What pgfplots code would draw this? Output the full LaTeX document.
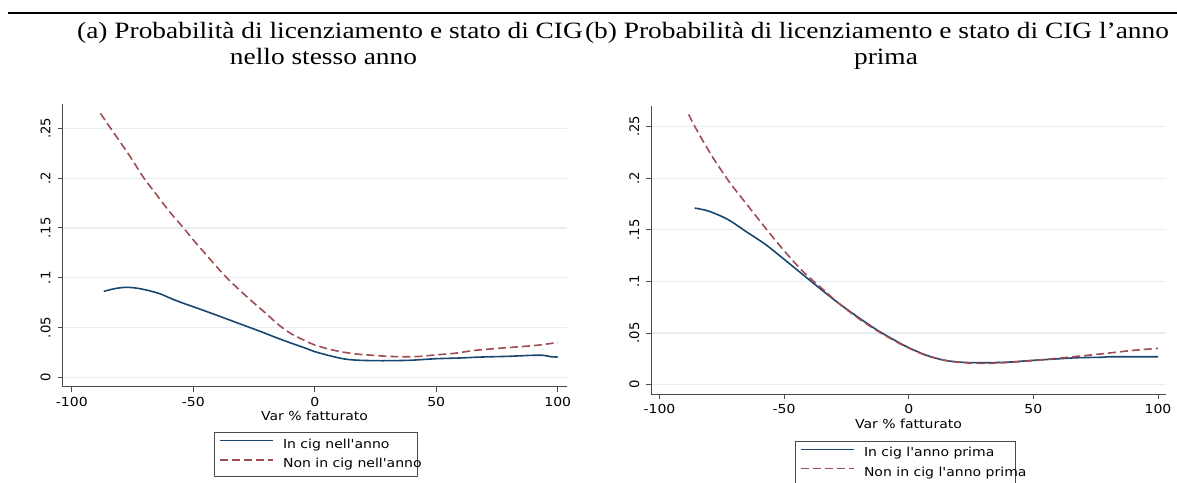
\documentclass[border=0pt]{standalone}
\usepackage{fontspec}
\usepackage{pgfplots}
\pgfplotsset{compat=1.18}
\newfontfamily\titlefont[FakeStretch=1.17]{Liberation Serif}
\newfontfamily\tickfont[FakeStretch=1.13]{DejaVu Sans}
\newfontfamily\ytickfont{DejaVu Sans}
\definecolor{cnavy}{HTML}{1A476F}
\definecolor{cmaroon}{HTML}{A04C52}
\definecolor{gridc}{HTML}{E6EEF1}
\definecolor{axc}{HTML}{4A4A4A}
\pgfplotsset{
  legend image code/.code={\draw[#1, line width=0.75pt] (0pt,2.2pt) -- (26.5pt,2.2pt);},
  solidl/.style={cnavy, line width=0.8pt},
  dashl/.style={cmaroon, line width=0.8pt, dash pattern=on 4pt off 2pt},
  stataax/.style={
    scale only axis,
    axis x line*=bottom, axis y line*=left,
    axis line style={-, draw=axc, line width=0.5pt},
    tick style={draw=axc, line width=0.5pt},
    tick align=outside, major tick length=2.4pt,
    xtick={-100,-50,0,50,100},
    xticklabels={-100,-50,0,50,100},
    ytick={0,0.05,0.1,0.15,0.2,0.25},
    yticklabels={0,.05,.1,.15,.2,.25},
    ymajorgrids, grid style={draw=gridc, line width=0.6pt},
    xticklabel style={font=\fontsize{6.2}{7}\selectfont\tickfont, anchor=north, inner sep=0pt},
    xticklabel shift=2.5pt,
    yticklabel style={font=\fontsize{6.6}{7}\selectfont\ytickfont, rotate=90, anchor=south, inner sep=0pt},
    yticklabel shift=3.3pt,
    xlabel={Var \% fatturato},
    legend cell align=left,
    legend style={draw=axc, line width=0.5pt, fill=white, font=\fontsize{6.2}{7}\selectfont\tickfont,
      inner xsep=2.5pt, inner ysep=3pt, row sep=3.5pt, nodes={inner sep=0pt}, anchor=north west},
  }
}
\begin{document}
\begin{tikzpicture}
\useasboundingbox (0,0) rectangle (588.5pt,241pt);
\draw[line width=0.9pt] (3.8pt,234.35pt) -- (588.5pt,234.35pt);
\node[anchor=base, inner sep=0pt, font=\fontsize{11.7}{13}\selectfont\titlefont] at (165pt,221.85pt) {(a) Probabilità di licenziamento e stato di CIG};
\node[anchor=base, inner sep=0pt, font=\fontsize{11.7}{13}\selectfont\titlefont] at (161.75pt,208.5pt) {nello stesso anno};
\node[anchor=base, inner sep=0pt, font=\fontsize{11.7}{13}\selectfont\titlefont] at (438.5pt,221.85pt) {(b) Probabilità di licenziamento e stato di CIG l’anno};
\node[anchor=base, inner sep=0pt, font=\fontsize{11.7}{13}\selectfont\titlefont] at (443pt,208.5pt) {prima};

\begin{axis}[stataax,
  at={(31.15pt,47.65pt)}, anchor=south west,
  width=252.2pt, height=141.1pt,
  xmin=-103.9, xmax=103.7, ymin=-0.0094, ymax=0.2739,
  xlabel style={font=\fontsize{6.2}{7}\selectfont\tickfont, at={(axis description cs:0.5,0)}, anchor=base, inner sep=0pt, yshift=-16.65pt},
  legend style={at={(axis description cs:0.3008,-0.1616)}},
]
\addplot[solidl, smooth] coordinates {
(-86.8,0.0863) (-82.4,0.0890) (-77.6,0.0904) (-72.9,0.0894) (-68.2,0.0870) (-63.5,0.0837)
(-58.7,0.0787) (-54.0,0.0743) (-47.7,0.0689) (-41.4,0.0633) (-35.1,0.0576) (-28.8,0.0519)
(-22.5,0.0462) (-16.2,0.0402) (-9.9,0.0345) (-3.6,0.0291) (0,0.0258) (6.0,0.0218)
(12.3,0.0184) (18.6,0.0171) (27.9,0.0167) (38.9,0.0171) (50.0,0.0187) (59.4,0.0194)
(68.8,0.0204) (79.8,0.0211) (89.3,0.0221) (94.0,0.0221) (97.2,0.0207) (100,0.0204)};
\addlegendentry{\hspace*{4.5pt}\makebox[64.5pt][l]{In cig nell'anno}}
\addplot[dashl, smooth] coordinates {
(-88.2,0.265) (-84,0.250) (-80,0.236) (-75,0.218) (-70.6,0.201) (-65,0.183) (-60,0.167)
(-54,0.150) (-50,0.138) (-45,0.124) (-40,0.110) (-35,0.097) (-30,0.0855) (-25,0.0745)
(-20,0.0640) (-15,0.0530) (-10,0.0442) (-5,0.038) (0,0.0325) (7.4,0.0274) (15,0.0240)
(20,0.0228) (27.9,0.0214) (35,0.0207) (42,0.0208) (50,0.0226) (57.8,0.0242) (65.7,0.0270)
(75,0.0290) (90.7,0.032) (100,0.0350)};
\addlegendentry{\hspace*{4.5pt}\makebox[64.5pt][l]{Non in cig nell'anno}}
\end{axis}

\begin{axis}[stataax,
  at={(325.5pt,44pt)}, anchor=south west,
  width=257.5pt, height=144pt,
  xmin=-103.4, xmax=103.2, ymin=-0.0090, ymax=0.2698,
  xlabel style={font=\fontsize{6.2}{7}\selectfont\tickfont, at={(axis description cs:0.5,0)}, anchor=base, inner sep=0pt, yshift=-17.15pt},
  legend style={at={(axis description cs:0.2796,-0.1632)}},
]
\addplot[solidl, smooth] coordinates {
(-85.9,0.171) (-80.2,0.168) (-72.6,0.160) (-65.1,0.148) (-57.6,0.136) (-50.1,0.1216)
(-42.6,0.1068) (-35.0,0.0919) (-27.5,0.0777) (-20.0,0.0648) (-12.5,0.0526) (-4.8,0.0419)
(0,0.0358) (7.2,0.0284) (14.7,0.0235) (22.1,0.0216) (31.3,0.0213) (40.3,0.0219)
(49.3,0.0235) (58.3,0.0248) (67.4,0.0261) (77.9,0.0266) (80,0.0270) (89.9,0.0271) (100,0.0271)};
\addlegendentry{\hspace*{4.5pt}\makebox[73pt][l]{In cig l'anno prima}}
\addplot[dashl, smooth] coordinates {
(-88.3,0.2616) (-84.7,0.2450) (-78.6,0.2200) (-71.9,0.1960) (-65.1,0.1750) (-57.6,0.1520)
(-50.1,0.1300) (-42.6,0.110) (-35.0,0.0935) (-27.5,0.0777) (-20.0,0.0639) (-12.5,0.052)
(-4.8,0.0413) (0,0.0355) (7.2,0.0281) (14.7,0.0235) (22.1,0.0213) (31.3,0.0206)
(40.3,0.0216) (49.3,0.0232) (58.3,0.0252) (67.4,0.0274) (77.9,0.030) (89.9,0.0332) (100,0.0352)};
\addlegendentry{\hspace*{4.5pt}\makebox[73pt][l]{Non in cig l'anno prima}}
\end{axis}
\end{tikzpicture}
\end{document}
